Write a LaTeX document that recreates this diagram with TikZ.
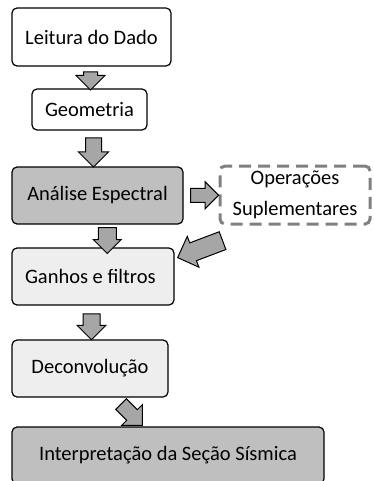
\documentclass[tikz,border=0pt]{standalone}
\usepackage{fontspec}
\setmainfont{Carlito}
\usetikzlibrary{shapes.arrows,calc}

\tikzset{
  etapa/.style={draw, line width=1.2pt, rounded corners=5pt, inner sep=0pt,
    align=center, font=\fontsize{20.5}{31}\selectfont},
  branco/.style={etapa, fill=white},
  cinza/.style={etapa, fill=gray!50},
  claro/.style={etapa, fill=gray!13},
  tracejado/.style={etapa, draw=gray, line width=3pt, dash pattern=on 12pt off 7pt},
  seta/.style={single arrow, draw, line width=1pt, fill=gray!70, inner xsep=0pt,
    single arrow head indent=0pt}
}

\begin{document}
\begin{tikzpicture}[x=1pt,y=1pt]
\useasboundingbox (0,0) rectangle (374,-481);

% etapas do processamento
\node[branco, minimum width=159pt, minimum height=58pt] (leitura) at (91.5,-37) {Leitura do Dado};
\node[branco, minimum width=115pt, minimum height=41pt] (geom) at (89.5,-109.5) {Geometria};
\node[cinza, minimum width=171pt, minimum height=57pt] (analise) at (97.5,-195.5) {Análise Espectral};
\node[tracejado, minimum width=150pt, minimum height=58pt] (oper) at (295,-195) {Operações\\Suplementares};
\node[claro, minimum width=162pt, minimum height=57pt, text width=136pt, align=flush left] (ganhos) at (93,-276.5) {Ganhos e filtros};
\node[claro, minimum width=156pt, minimum height=57pt] (deconv) at (90,-368.5) {Deconvolução};
\node[cinza, minimum width=312pt, minimum height=57pt] (interp) at (168,-455.5) {Interpretação da Seção Sísmica};

% setas entre as etapas
\node[seta, rotate=-90, minimum height=18pt, inner ysep=6.5pt, single arrow head extend=7.5pt] (s1)
  at ($(leitura.south)!.5!(geom.north)$) {};
\node[seta, rotate=-90, minimum height=29pt, inner ysep=7.5pt, single arrow head extend=7pt] (s2)
  at ($(geom.south)!.5!(analise.north)$) {};
\node[seta, minimum height=28pt, inner ysep=6.5pt, single arrow head extend=6.5pt] (s3)
  at ($(analise.east)!.5!(oper.west)$) {};
\node[seta, rotate=200.7, minimum height=48pt, inner ysep=9pt, single arrow head extend=7pt] (s4)
  at ($(ganhos.north east)!.5!(oper.south west)+(8,-11)$) {};
\node[seta, rotate=-90, minimum height=26pt, inner ysep=8.5pt, single arrow head extend=5pt] (s5)
  at ($(analise.south)!.5!(ganhos.north)+(12,0)$) {};
\node[seta, rotate=-90, minimum height=26pt, inner ysep=8pt, single arrow head extend=6pt] (s6)
  at ($(ganhos.south)!.5!(deconv.north)$) {};
\node[seta, rotate=-45, minimum height=30pt, inner ysep=7pt, single arrow head extend=7pt] (s7)
  at ($(deconv.south)!.5!(interp.north)$) {};
\end{tikzpicture}
\end{document}
